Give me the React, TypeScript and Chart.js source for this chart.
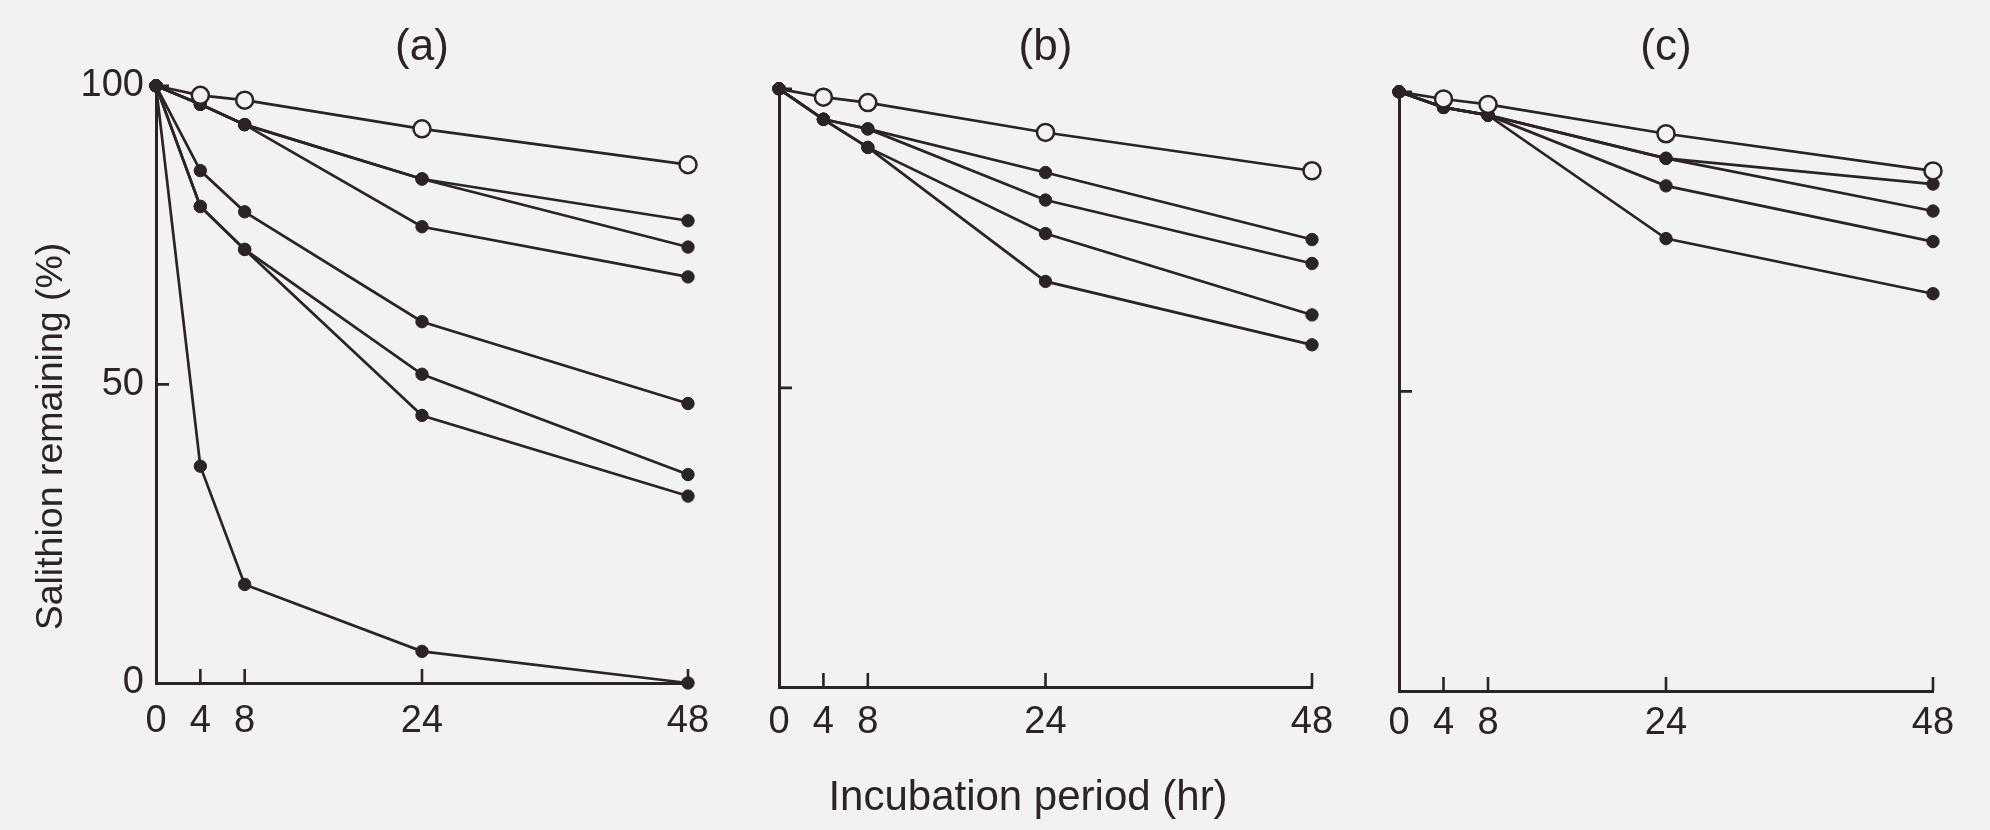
import React, { useEffect, useRef } from "react";
import { Chart, registerables } from "chart.js";

Chart.register(...registerables);

const INK = "#2b2325";
const PAPER = "#f3f2f3";
const FONT = "'Liberation Sans', Arial, Helvetica, sans-serif";

// ---- shared axis definitions ----
const hours = [0, 4, 8, 24, 48];
const xTickValues = [0, 4, 8, 24, 48];
const xTickMarks = [4, 8, 24, 48];
const yTickValues = [0, 50, 100];
const yTickMarks = [50, 100];
const panelTitles = ["(a)", "(b)", "(c)"];
const yAxisTitle = "Salithion remaining (%)";
const xAxisTitle = "Incubation period (hr)";

// ---- panel (a) ----
const aControl = [100, 98.4, 97.6, 92.8, 86.8];
const aS1 = [100, 96.9, 93.5, 84.4, 77.4];
const aS2 = [100, 96.9, 93.5, 84.4, 73.0];
const aS3 = [100, 96.9, 93.5, 76.4, 68.0];
const aS4 = [100, 85.8, 78.9, 60.5, 46.8];
const aS5 = [100, 79.8, 72.6, 51.7, 34.9];
const aS6 = [100, 79.8, 72.6, 44.8, 31.3];
const aS7 = [100, 36.3, 16.5, 5.3, 0];

// ---- panel (b) ----
const bControl = [100, 98.6, 97.7, 92.7, 86.3];
const bS1 = [100, 94.9, 93.3, 86.0, 74.8];
const bS2 = [100, 94.9, 93.3, 81.4, 70.8];
const bS3 = [100, 94.9, 90.2, 75.8, 62.2];
const bS4 = [100, 94.9, 90.2, 67.8, 57.2];

// ---- panel (c) ----
const cControl = [100, 98.8, 97.9, 93.0, 86.8];
const cS1 = [100, 97.4, 96.1, 88.9, 84.6];
const cS2 = [100, 97.4, 96.1, 88.9, 80.1];
const cS3 = [100, 97.4, 96.1, 84.3, 75.0];
const cS4 = [100, 97.4, 96.1, 75.5, 66.3];

type Geo = {
  left: number;
  width: number;
  padRight: number;
  yWidth: number;
  titleGap: number;
  xHeight: number;
  xLabelPad: number;
};

const inwardTicks = {
  id: "inwardTicks",
  afterDraw(chart: any) {
    const { ctx, chartArea, scales } = chart;
    const xs = scales.x;
    const ys = scales.y;
    ctx.save();
    ctx.strokeStyle = INK;
    ctx.lineWidth = 2.6;
    ctx.beginPath();
    for (const v of xTickMarks) {
      const px = xs.getPixelForValue(v);
      ctx.moveTo(px, chartArea.bottom);
      ctx.lineTo(px, chartArea.bottom - 14);
    }
    for (const v of yTickMarks) {
      const py = ys.getPixelForValue(v);
      ctx.moveTo(chartArea.left, py);
      ctx.lineTo(chartArea.left + 13, py);
    }
    ctx.stroke();
    ctx.restore();
  },
};

function Panel(props: {
  title: string;
  control: number[];
  treated: number[][];
  geo: Geo;
  showYLabels: boolean;
  showYTitle: boolean;
  showXTitle: boolean;
}) {
  const ref = useRef<HTMLCanvasElement>(null);
  const { title, control, treated, geo, showYLabels, showYTitle, showXTitle } = props;

  useEffect(() => {
    const toXY = (vals: number[]) => hours.map((h, i) => ({ x: h, y: vals[i] }));
    const datasets: any[] = [
      {
        data: toXY(control),
        borderColor: INK,
        borderWidth: 2.7,
        pointRadius: (c: any) => (c.dataIndex === 0 ? 0 : 8.5),
        pointBackgroundColor: PAPER,
        pointBorderColor: INK,
        pointBorderWidth: 2.5,
        clip: false,
      },
      ...treated.map((v) => ({
        data: toXY(v),
        borderColor: INK,
        borderWidth: 2.7,
        pointRadius: 6.2,
        pointBackgroundColor: INK,
        pointBorderColor: INK,
        pointBorderWidth: 1,
        clip: false,
      })),
    ];

    const chart = new Chart(ref.current as HTMLCanvasElement, {
      type: "line",
      data: { datasets },
      options: {
        responsive: false,
        animation: false,
        events: [],
        layout: {
          padding: { left: 0, top: 0, right: geo.padRight, bottom: 0 },
          autoPadding: false,
        } as any,
        plugins: {
          legend: { display: false },
          tooltip: { enabled: false },
          title: {
            display: true,
            fullSize: false,
            text: title,
            color: INK,
            font: { family: FONT, size: 44, weight: "normal", lineHeight: 1.2 },
            padding: { top: 21, bottom: geo.titleGap },
          },
        },
        scales: {
          x: {
            type: "linear",
            min: 0,
            max: 48,
            afterBuildTicks: (s: any) => {
              s.ticks = xTickValues.map((v) => ({ value: v }));
            },
            afterFit: (s: any) => {
              s.height = geo.xHeight;
            },
            ticks: {
              autoSkip: false,
              maxRotation: 0,
              padding: geo.xLabelPad,
              color: INK,
              font: { family: FONT, size: 38 },
              callback: (v: any) => String(v),
            },
            grid: { display: true, drawOnChartArea: false, drawTicks: false, color: "rgba(0,0,0,0)" },
            border: { display: true, color: INK, width: 3 },
            title: {
              display: showXTitle,
              text: xAxisTitle + "   ",
              color: INK,
              font: { family: FONT, size: 42, lineHeight: 1.2 },
              padding: { top: 0, bottom: 6 },
            },
          },
          y: {
            type: "linear",
            min: 0,
            max: 100,
            afterBuildTicks: (s: any) => {
              s.ticks = yTickValues.map((v) => ({ value: v }));
            },
            afterFit: (s: any) => {
              s.width = geo.yWidth;
            },
            ticks: {
              display: showYLabels,
              padding: 12,
              color: INK,
              font: { family: FONT, size: 38 },
              callback: (v: any) => String(v),
            },
            grid: { display: true, drawOnChartArea: false, drawTicks: false, color: "rgba(0,0,0,0)" },
            border: { display: true, color: INK, width: 3 },
            title: {
              display: showYTitle,
              text: yAxisTitle + "          ",
              color: INK,
              font: { family: FONT, size: 37.5, lineHeight: 1.2 },
              padding: { top: 29, bottom: 0 },
            },
          },
        },
      } as any,
      plugins: [inwardTicks],
    });
    return () => chart.destroy();
  }, []);

  return (
    <canvas
      ref={ref}
      width={geo.width}
      height={830}
      style={{ position: "absolute", left: geo.left, top: 0, width: geo.width, height: 830 }}
    />
  );
}

export default function App() {
  useEffect(() => {
    document.body.style.margin = "0";
    document.body.style.background = PAPER;
  }, []);
  return (
    <div
      style={{
        position: "absolute",
        left: 0,
        top: 0,
        width: 1990,
        height: 830,
        background: PAPER,
        overflow: "hidden",
      }}
    >
      <Panel
        title={panelTitles[0]}
        control={aControl}
        treated={[aS1, aS2, aS3, aS4, aS5, aS6, aS7]}
        geo={{ left: 0, width: 740, padRight: 52, yWidth: 156, titleGap: 12, xHeight: 147, xLabelPad: 16 }}
        showYLabels={true}
        showYTitle={true}
        showXTitle={false}
      />
      <Panel
        title={panelTitles[1]}
        control={bControl}
        treated={[bS1, bS2, bS3, bS4]}
        geo={{ left: 740, width: 620, padRight: 48, yWidth: 39, titleGap: 15, xHeight: 143, xLabelPad: 13 }}
        showYLabels={false}
        showYTitle={false}
        showXTitle={true}
      />
      <Panel
        title={panelTitles[2]}
        control={cControl}
        treated={[cS1, cS2, cS3, cS4]}
        geo={{ left: 1360, width: 630, padRight: 57, yWidth: 39, titleGap: 18, xHeight: 139, xLabelPad: 10 }}
        showYLabels={false}
        showYTitle={false}
        showXTitle={false}
      />
    </div>
  );
}
